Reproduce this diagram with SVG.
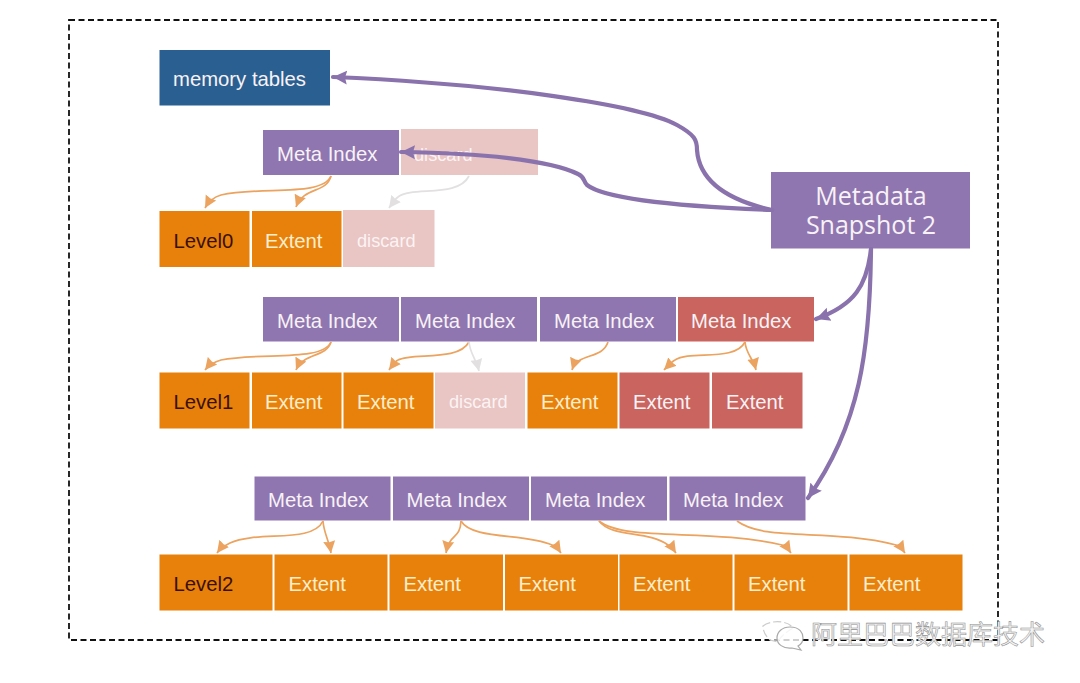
<svg xmlns="http://www.w3.org/2000/svg" width="1080" height="683" viewBox="0 0 1080 683">
<style>
.t{font-family:"Liberation Sans",Arial,sans-serif;font-size:20.3px}
.c{fill:#fbeecb}
.w{fill:#f8f2f6}
.k{fill:#3a1005}
.d{font-size:18.2px;fill:#fbf3f3}
.meta{fill:#8f76b0}
.red{fill:#c9645f}
.or{fill:#e8810b}
.dis{fill:#e9c5c4}
.o{fill:none;stroke:#eba35f;stroke-width:1.7;marker-end:url(#oh)}
.g{fill:none;stroke:#e2e0e0;stroke-width:1.7;marker-end:url(#gh)}
.p{fill:none;stroke:#8a72ad;stroke-width:4.2;stroke-linecap:round;marker-end:url(#ph)}
</style>
<defs>
<marker id="oh" markerUnits="userSpaceOnUse" markerWidth="14" markerHeight="14" refX="12" refY="7" orient="auto"><path d="M0,1 L12,7 L0,13 L1,7 Z" fill="#eba35f"/></marker>
<marker id="gh" markerUnits="userSpaceOnUse" markerWidth="14" markerHeight="14" refX="12" refY="7" orient="auto"><path d="M0,1 L12,7 L0,13 L1,7 Z" fill="#e2e0e0"/></marker>
<marker id="ph" markerUnits="userSpaceOnUse" markerWidth="16" markerHeight="16" refX="14" refY="8" orient="auto"><path d="M0,1 L14,8 L0,15 L2,8 Z" fill="#8a72ad"/></marker>
</defs>
<rect width="1080" height="683" fill="#fff"/>
<rect id="frame" x="69" y="20" width="929" height="620" fill="none" stroke="#111" stroke-width="1.8" stroke-dasharray="6 3.5"/>

<g id="memory-tables"><rect x="159.5" y="50" width="170.5" height="55.5" fill="#2a5f91"/><text class="t w" x="173" y="86">memory tables</text></g>

<g id="l0-meta"><rect class="meta" x="263" y="130" width="136" height="45"/><text class="t w" x="277" y="161">Meta Index</text></g>
<g id="l0-meta-discard"><rect class="dis" x="401" y="129" width="137" height="46"/><text class="t d" x="414" y="161">discard</text></g>
<g id="level0"><rect class="or" x="159.5" y="211" width="90" height="56"/><text class="t k" x="173.5" y="248">Level0</text></g>
<g id="l0-extent"><rect class="or" x="252" y="211" width="89.5" height="56"/><text class="t c" x="265" y="248">Extent</text></g>
<g id="l0-discard"><rect class="dis" x="343" y="210" width="91.5" height="57"/><text class="t d" x="357" y="247">discard</text></g>

<g id="l1-meta-1"><rect class="meta" x="263" y="297" width="136" height="44.5"/><text class="t w" x="277" y="328">Meta Index</text></g>
<g id="l1-meta-2"><rect class="meta" x="401" y="297" width="136" height="44.5"/><text class="t w" x="415" y="328">Meta Index</text></g>
<g id="l1-meta-3"><rect class="meta" x="540" y="297" width="136" height="44.5"/><text class="t w" x="554" y="328">Meta Index</text></g>
<g id="l1-meta-4"><rect class="red" x="678" y="297" width="136" height="44.5"/><text class="t w" x="691" y="328">Meta Index</text></g>

<g id="level1"><rect class="or" x="159.5" y="372.5" width="90" height="56"/><text class="t k" x="173.5" y="409">Level1</text></g>
<g id="l1-extent-1"><rect class="or" x="252" y="372.5" width="89.5" height="56"/><text class="t c" x="265" y="409">Extent</text></g>
<g id="l1-extent-2"><rect class="or" x="343.5" y="372.5" width="90" height="56"/><text class="t c" x="357" y="409">Extent</text></g>
<g id="l1-discard"><rect class="dis" x="435" y="372.5" width="90" height="56"/><text class="t d" x="449" y="408">discard</text></g>
<g id="l1-extent-3"><rect class="or" x="527.5" y="372.5" width="90" height="56"/><text class="t c" x="541" y="409">Extent</text></g>
<g id="l1-extent-4"><rect class="red" x="619.5" y="372.5" width="90" height="56"/><text class="t w" x="633" y="409">Extent</text></g>
<g id="l1-extent-5"><rect class="red" x="712" y="372.5" width="90.5" height="56"/><text class="t w" x="726" y="409">Extent</text></g>

<g id="l2-meta-1"><rect class="meta" x="254.5" y="476.5" width="136" height="44"/><text class="t w" x="268" y="507">Meta Index</text></g>
<g id="l2-meta-2"><rect class="meta" x="393" y="476.5" width="136" height="44"/><text class="t w" x="406.5" y="507">Meta Index</text></g>
<g id="l2-meta-3"><rect class="meta" x="531" y="476.5" width="136" height="44"/><text class="t w" x="545" y="507">Meta Index</text></g>
<g id="l2-meta-4"><rect class="meta" x="669.5" y="476.5" width="136" height="44"/><text class="t w" x="683" y="507">Meta Index</text></g>

<g id="level2"><rect class="or" x="159.5" y="554.5" width="113" height="56"/><text class="t k" x="173.5" y="591">Level2</text></g>
<g id="l2-extent-1"><rect class="or" x="274.5" y="554.5" width="113" height="56"/><text class="t c" x="288.5" y="591">Extent</text></g>
<g id="l2-extent-2"><rect class="or" x="389.5" y="554.5" width="113.5" height="56"/><text class="t c" x="403.5" y="591">Extent</text></g>
<g id="l2-extent-3"><rect class="or" x="505" y="554.5" width="113" height="56"/><text class="t c" x="518.5" y="591">Extent</text></g>
<g id="l2-extent-4"><rect class="or" x="619.5" y="554.5" width="113" height="56"/><text class="t c" x="633" y="591">Extent</text></g>
<g id="l2-extent-5"><rect class="or" x="734.5" y="554.5" width="113" height="56"/><text class="t c" x="748" y="591">Extent</text></g>
<g id="l2-extent-6"><rect class="or" x="849.5" y="554.5" width="113" height="56"/><text class="t c" x="863" y="591">Extent</text></g>

<g id="snapshot"><rect class="meta" x="771" y="172" width="199" height="76.5"/>
<text font-family="'Open Sans','Noto Sans',sans-serif" font-size="25" fill="#f8f2f6" text-anchor="middle"><tspan x="871" y="205">Metadata</tspan><tspan x="871" y="234">Snapshot 2</tspan></text></g>

<g id="connectors">
<path class="o" d="M331,176 C322,197 262,186 221,195 C214,197 209,201 205,208"/>
<path class="o" d="M331,176 C326,194 304,186 296,207"/>
<path class="g" d="M469,176 C458,198 412,186 398,197 C394,200 392,204 389,208"/>
<path class="o" d="M331,342 C322,362 262,352 221,360 C214,362 209,365 205,370"/>
<path class="o" d="M331,342 C326,358 304,352 296,370"/>
<path class="o" d="M469,342 C458,362 412,352 398,360 C394,362 392,366 389,370"/>
<path class="g" d="M469,342 C470,354 476,358 479,371"/>
<path class="o" d="M608,342 C602,360 578,352 572,370"/>
<path class="o" d="M745,342 C735,362 690,350 675,360 C671,362 668,366 664,370"/>
<path class="o" d="M745,342 C746,354 753,358 756,370"/>
<path class="o" d="M323,521 C312,544 258,530 230,543 C224,546 220,549 217,553"/>
<path class="o" d="M323,521 C324,534 329,540 331,553"/>
<path class="o" d="M461,521 C460,540 450,532 446,553"/>
<path class="o" d="M461,521 C472,540 525,533 552,545 C556,547 559,550 561,553"/>
<path class="o" d="M599,521 C612,538 648,530 668,545 C671,548 674,550 676,553"/>
<path class="o" d="M599,521 C625,542 710,528 782,545 C786,547 789,550 791,553"/>
<path class="o" d="M737,521 C765,542 830,528 896,545 C900,547 903,550 905,553"/>
<path class="p" d="M772,210 C745,204 700,190 697,150 C697,140 695,135 677,125 C640,105 500,84 333,77"/>
<path class="p" d="M772,210 C720,208 610,203 587,185 C583,181 585,177 578,174 C550,160 480,153 401,152"/>
<path class="p" d="M871,249 C867,285 855,305 816,319"/>
<path class="p" d="M871,249 C870,350 860,425 808,498"/>
</g>

<g id="watermark">
<path d="M763,626 C770,620 788,620 793,628 C786,632 780,637 778,642 L770,640 C766,636 763,632 763,626 Z" fill="#fff" fill-opacity=".6" stroke="#ccc" stroke-width="1.2" stroke-dasharray="8 3"/>
<path d="M790,627 C800,627 803,633 803,638 C803,642 800,645 798,646 L801,650 L792,648 C783,649 777,644 777,638 C777,632 782,627 790,627 Z" fill="#fff" fill-opacity=".8" stroke="#aaa" stroke-width="1.2"/>
<text x="811" y="644" font-family="'Noto Sans CJK SC',sans-serif" font-size="26" fill="#f2f2f2" stroke="#8f8f8f" stroke-width=".55">阿里巴巴数据库技术</text>
</g>
</svg>
